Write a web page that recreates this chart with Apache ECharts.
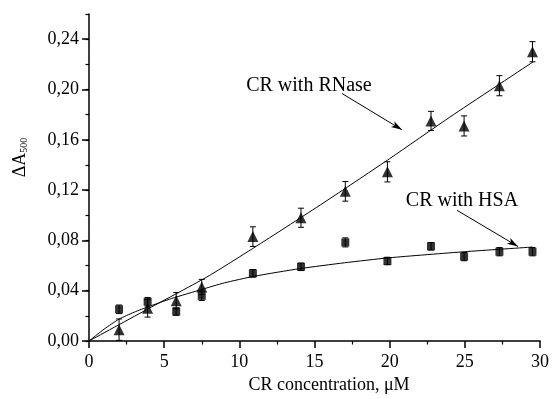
<!DOCTYPE html>
<html>
<head>
<meta charset="utf-8">
<script src="https://cdn.jsdelivr.net/npm/echarts@6/dist/echarts.min.js"></script>
<style>
  html, body { margin: 0; padding: 0; background: #fff; }
  #chart { width: 552px; height: 399px; }
</style>
</head>
<body>
<div id="chart"></div>
<script>
// concentrations, uM
const conc = [2.0, 3.9, 5.8, 7.5, 10.9, 14.1, 17.05, 19.85, 22.75, 24.95, 27.3, 29.5];

// CR with RNase (triangles)
const rnaseY = [0.009, 0.026, 0.032, 0.043, 0.083, 0.098, 0.119, 0.1345, 0.175, 0.171, 0.203, 0.230];
const rnaseErr = [0.0085, 0.007, 0.0065, 0.006, 0.0078, 0.0076, 0.0078, 0.008, 0.0076, 0.008, 0.008, 0.008];

// CR with HSA (squares)
const hsaY = [0.0252, 0.0312, 0.0234, 0.0359, 0.0538, 0.059, 0.0784, 0.0636, 0.0753, 0.0671, 0.071, 0.071];
const hsaErr = [0.0034, 0.0034, 0.003, 0.0037, 0.003, 0.003, 0.0036, 0.003, 0.003, 0.0033, 0.0033, 0.0033];

// fitted curves
const rnaseFitX = [0, 4, 8, 12, 16, 20, 24, 29.55];
const rnaseFitY = [0, 0.026, 0.052, 0.082, 0.113, 0.145, 0.178, 0.222];
const hsaFitX = [0, 1, 2, 3, 4, 5.5, 7.5, 9, 11, 14, 17, 20, 25, 29.5];
const hsaFitY = [0, 0.0094, 0.0174, 0.0229, 0.0275, 0.0338, 0.041, 0.0462, 0.0515, 0.0575, 0.0622, 0.0662, 0.071, 0.0747];

// axis ticks
const xTicks = [0, 5, 10, 15, 20, 25, 30];
const yTicks = [0, 0.04, 0.08, 0.12, 0.16, 0.20, 0.24];

const font = "'Liberation Serif', 'Times New Roman', serif";

const chart = echarts.init(document.getElementById("chart"));

function pairs(xs, ys) {
  return xs.map((x, i) => [x, ys[i]]);
}

function errRows(ys, errs) {
  return conc.map((x, i) => [x, ys[i], errs[i]]);
}

function renderErr(params, api) {
  const x = api.value(0), y = api.value(1), e = api.value(2);
  const top = api.coord([x, y + e]);
  const bot = api.coord([x, y - e]);
  const w = 3;
  const st = { stroke: "#000", lineWidth: 1 };
  return {
    type: "group",
    children: [
      { type: "line", shape: { x1: top[0], y1: top[1], x2: bot[0], y2: bot[1] }, style: st },
      { type: "line", shape: { x1: top[0] - w, y1: top[1], x2: top[0] + w, y2: top[1] }, style: st },
      { type: "line", shape: { x1: bot[0] - w, y1: bot[1], x2: bot[0] + w, y2: bot[1] }, style: st },
    ],
  };
}

const option = {
  animation: false,
  backgroundColor: "#fff",
  grid: { left: 89, right: 12, top: 14, bottom: 51 },
  xAxis: {
    type: "value",
    min: 0,
    max: 30,
    interval: 5,
    name: "CR concentration, \u03bcM",
    nameLocation: "middle",
    nameGap: 35,
    nameTextStyle: { color: "#000", fontSize: 18, fontFamily: font, padding: [0, 0, 0, 29] },
    axisLine: { lineStyle: { color: "#000", width: 1.5 } },
    axisTick: { inside: false, length: 7, lineStyle: { color: "#000", width: 1.5 } },
    minorTick: { show: true, splitNumber: 2, length: 3.5, lineStyle: { color: "#000", width: 1.2 } },
    axisLabel: {
      color: "#000", fontSize: 18, fontFamily: font, margin: 12,
      formatter: (v) => (xTicks.includes(v) ? String(v) : ""),
    },
    splitLine: { show: false },
  },
  yAxis: [
    {
      type: "value",
      min: 0,
      max: 0.26,
      interval: 0.02,
      name: "{a|\u0394A}{b|500}",
      nameLocation: "middle",
      nameGap: 60,
      nameTextStyle: {
        color: "#000", fontFamily: font, padding: [0, 0, 0, 40],
        rich: {
          a: { fontSize: 18, fontFamily: font, color: "#000", verticalAlign: "bottom", lineHeight: 20 },
          b: { fontSize: 10, fontFamily: font, color: "#000", verticalAlign: "bottom", lineHeight: 11 },
        },
      },
      axisLine: { lineStyle: { color: "#000", width: 1.5 } },
      axisTick: { inside: false, length: 3.5, lineStyle: { color: "#000", width: 1.2 } },
      axisLabel: {
        color: "#000", fontSize: 18, fontFamily: font, margin: 10,
        formatter: (v) => {
          const hit = yTicks.some((t) => Math.abs(t - v) < 1e-6);
          return hit ? v.toFixed(2).replace(".", ",") : "";
        },
      },
      splitLine: { show: false },
    },
    {
      type: "value",
      min: 0,
      max: 0.26,
      interval: 0.04,
      position: "left",
      axisLine: { show: false },
      axisTick: { inside: false, length: 7, customValues: yTicks, lineStyle: { color: "#000", width: 1.5 } },
      axisLabel: { show: false },
      splitLine: { show: false },
    },
  ],
  series: [
    {
      name: "HSA fit",
      type: "line",
      data: pairs(hsaFitX, hsaFitY),
      smooth: 0.2,
      symbol: "none",
      lineStyle: { color: "#000", width: 1 },
      z: 2,
    },
    {
      name: "RNase fit",
      type: "line",
      data: pairs(rnaseFitX, rnaseFitY),
      smooth: 0.2,
      symbol: "none",
      lineStyle: { color: "#000", width: 1 },
      z: 2,
      markLine: {
        silent: true,
        symbol: ["none", "arrow"],
        symbolSize: [5, 11],
        lineStyle: { color: "#000", width: 1, type: "solid" },
        label: { show: false },
        data: [
          [{ coord: [16.83, 0.1968] }, { coord: [20.82, 0.1679] }],
          [{ coord: [24.48, 0.1039] }, { coord: [28.54, 0.0751] }],
        ],
      },
      markPoint: {
        silent: true,
        symbol: "rect",
        symbolSize: 0,
        label: {
          show: true,
          position: "inside",
          formatter: "{b}",
          color: "#000",
          fontSize: 20,
          fontFamily: font,
        },
        data: [
          { name: "CR with RNase", coord: [14.63, 0.2029] },
          { name: "CR with HSA", coord: [24.81, 0.1118] },
        ],
      },
    },
    {
      name: "HSA err",
      type: "custom",
      renderItem: renderErr,
      data: errRows(hsaY, hsaErr),
      encode: { x: 0, y: 1 },
      z: 3,
    },
    {
      name: "RNase err",
      type: "custom",
      renderItem: renderErr,
      data: errRows(rnaseY, rnaseErr),
      encode: { x: 0, y: 1 },
      z: 3,
    },
    {
      name: "CR with HSA",
      type: "scatter",
      data: pairs(conc, hsaY),
      symbol: "rect",
      symbolSize: 8,
      itemStyle: { color: "#000" },
      z: 4,
    },
    {
      name: "CR with RNase",
      type: "scatter",
      data: pairs(conc, rnaseY),
      symbol: "triangle",
      symbolSize: 11,
      itemStyle: { color: "#000" },
      z: 4,
    },
  ],
};

chart.setOption(option);
</script>
</body>
</html>
